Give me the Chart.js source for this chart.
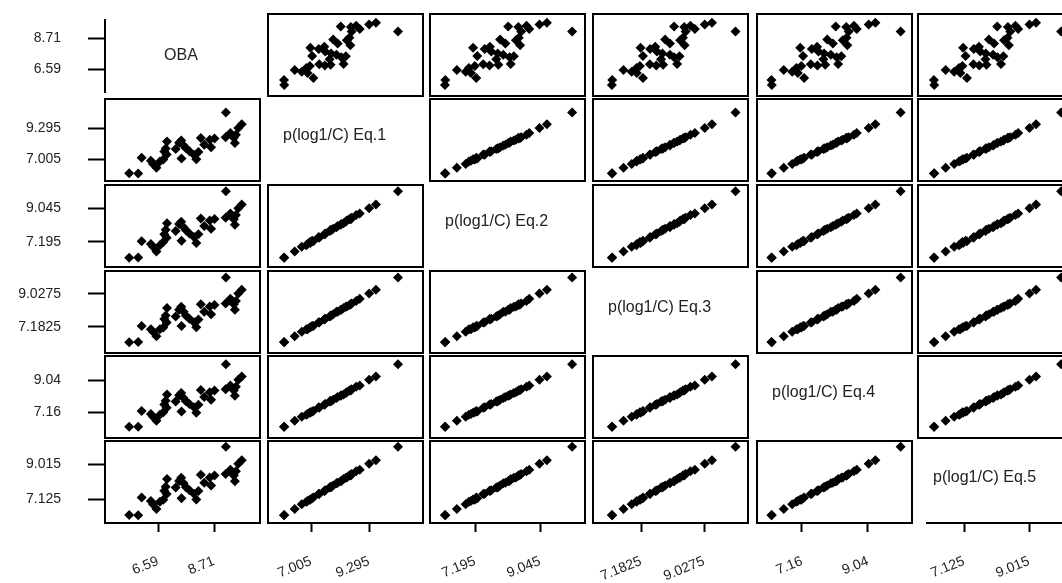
<!DOCTYPE html>
<html lang="en">
<head>
<meta charset="UTF-8">
<title>Scatterplot matrix - OBA vs p(log1/C)</title>
<script src="https://cdn.jsdelivr.net/npm/chart.js"></script>
<style>
  html, body { margin: 0; padding: 0; background: #fff; overflow: hidden; }
  #matrix { position: relative; width: 1062px; height: 583px; overflow: hidden; }
  #matrix canvas { position: absolute; }
  .diag { position: absolute; font: 16px 'Liberation Sans', Arial, sans-serif; color: #222; white-space: nowrap; line-height: 18px; }
</style>
</head>
<body>
<div id="matrix"></div>
<script>
// variables of the matrix (row / column order)
const names = ['OBA', 'p(log1/C) Eq.1', 'p(log1/C) Eq.2', 'p(log1/C) Eq.3', 'p(log1/C) Eq.4', 'p(log1/C) Eq.5'];
const tickLabels = [
  ['6.59', '8.71'],
  ['7.005', '9.295'],
  ['7.195', '9.045'],
  ['7.1825', '9.0275'],
  ['7.16', '9.04'],
  ['7.125', '9.015']
];

// observations
const oba = [5.50, 5.84, 5.97, 6.32, 6.40, 6.53, 6.66, 6.79, 6.92, 6.88, 6.93, 6.83, 7.26, 7.39, 7.48, 7.56, 7.65, 7.78, 8.04, 8.12, 8.21, 8.34, 8.55, 8.60, 9.16, 9.15, 9.33, 9.50, 9.54, 9.63, 9.76, 9.46, 7.95, 7.47, 8.73];
const eq1 = [5.95, 5.94, 7.10, 6.87, 6.64, 6.36, 6.82, 6.96, 7.33, 7.78, 8.29, 7.55, 7.74, 8.20, 7.05, 8.01, 7.80, 7.57, 6.98, 7.53, 8.56, 8.06, 8.42, 7.88, 10.44, 8.61, 8.93, 8.18, 8.79, 9.30, 9.57, 8.58, 7.31, 8.38, 8.52];
const eq2 = [6.34, 6.35, 7.23, 7.08, 6.93, 6.68, 7.02, 7.19, 7.43, 7.86, 8.21, 7.61, 7.80, 8.18, 7.26, 8.00, 7.84, 7.66, 7.14, 7.62, 8.48, 8.06, 8.36, 7.91, 9.96, 8.51, 8.74, 8.14, 8.66, 9.03, 9.24, 8.43, 7.47, 8.30, 8.44];
const eq3 = [6.33, 6.34, 7.24, 7.06, 6.91, 6.67, 7.05, 7.15, 7.44, 7.83, 8.24, 7.63, 7.77, 8.15, 7.24, 8.03, 7.81, 7.65, 7.17, 7.60, 8.46, 8.03, 8.33, 7.89, 9.95, 8.49, 8.76, 8.15, 8.63, 9.05, 9.26, 8.45, 7.45, 8.31, 8.41];
const eq4 = [6.30, 6.29, 7.22, 7.04, 6.88, 6.64, 7.00, 7.14, 7.41, 7.82, 8.19, 7.60, 7.77, 8.15, 7.19, 7.98, 7.79, 7.63, 7.11, 7.59, 8.45, 8.04, 8.32, 7.88, 9.97, 8.49, 8.72, 8.12, 8.64, 9.06, 9.25, 8.42, 7.44, 8.28, 8.43];
const eq5 = [6.26, 6.25, 7.21, 7.02, 6.84, 6.59, 6.98, 7.08, 7.40, 7.78, 8.20, 7.57, 7.75, 8.10, 7.17, 7.97, 7.76, 7.60, 7.10, 7.56, 8.43, 8.00, 8.29, 7.85, 9.95, 8.47, 8.70, 8.09, 8.62, 9.03, 9.22, 8.40, 7.41, 8.27, 8.39];
const series = [oba, eq1, eq2, eq3, eq4, eq5];

// layout, page pixels
const W = 1062, H = 583;
const colLeft = [105, 268, 430, 593, 757, 918];
const rowTop = [14, 99, 185, 271, 356, 441];
const cellW = 155, cellH = 82;
// where the two tick marks sit (lower label, upper label)
const xTickAt = [[158, 214], [311, 369], [475, 540], [641, 704], [802, 868], [964, 1029]];
const yTickAt = [[69, 38], [159, 128], [242, 208], [327, 294], [412, 380], [499, 464]];

const FONT = "'Liberation Sans', Arial, sans-serif";
const wrap = document.getElementById('matrix');

const framePlugin = {
  id: 'frame',
  afterDatasetsDraw(chart, args, opts) {
    if (!opts.show) return;
    const a = chart.chartArea, ctx = chart.ctx;
    ctx.save();
    ctx.strokeStyle = '#000';
    ctx.lineWidth = 2;
    ctx.strokeRect(a.left, a.top, a.right - a.left, a.bottom - a.top);
    ctx.restore();
  }
};

function valueAt(v, px, isX) {
  const t = tickLabels[v].map(Number);
  const at = isX ? xTickAt[v] : yTickAt[v];
  return t[0] + (px - at[0]) * (t[1] - t[0]) / (at[1] - at[0]);
}

function axis(v, isX, area, shown, line, size) {
  return {
    type: 'linear',
    position: isX ? 'bottom' : 'left',
    display: shown,
    min: isX ? valueAt(v, area.l, true) : valueAt(v, area.b, false),
    max: isX ? valueAt(v, area.r, true) : valueAt(v, area.t, false),
    afterBuildTicks: s => { s.ticks = tickLabels[v].map(Number).map(n => ({ value: n })); },
    afterFit: s => {
      if (shown) {
        if (isX) s.height = size; else s.width = size;
      }
      s.paddingTop = s.paddingBottom = s.paddingLeft = s.paddingRight = 0;
    },
    grid: { drawOnChartArea: false, drawTicks: true, tickLength: isX ? 9 : 17, tickWidth: 2, tickColor: '#000' },
    border: { display: line, color: '#000', width: 2 },
    ticks: {
      autoSkip: false,
      color: '#222',
      font: { family: FONT, size: 14 },
      padding: isX ? 21 : 27,
      minRotation: isX ? 22 : 0,
      maxRotation: isX ? 22 : 0,
      callback: (val, i) => tickLabels[v][i]
    }
  };
}

function addChart(area, xv, yv, o) {
  const cl = o.showY ? 0 : area.l - 6;
  const ct = area.t - 6;
  const cr = area.r + 6;
  const cb = o.showX ? H : area.b + 6;
  const canvas = document.createElement('canvas');
  canvas.width = cr - cl;
  canvas.height = cb - ct;
  canvas.style.left = cl + 'px';
  canvas.style.top = ct + 'px';
  wrap.appendChild(canvas);

  const pts = o.points ? series[xv].map((x, k) => ({ x: x, y: series[yv][k] })) : [];
  new Chart(canvas, {
    type: 'scatter',
    data: {
      datasets: [{
        data: pts,
        pointStyle: 'rectRot',
        pointRadius: 5,
        pointBorderWidth: 0,
        borderWidth: 0,
        backgroundColor: '#000'
      }]
    },
    options: {
      responsive: false,
      animation: false,
      events: [],
      layout: { padding: { left: o.showY ? 0 : area.l - cl, top: 6, right: 6, bottom: o.showX ? 0 : 6 } },
      scales: {
        x: axis(xv, true, area, !!o.showX, !!o.xLine, cb - area.b),
        y: axis(yv, false, area, !!o.showY, !!o.yLine, area.l - cl)
      },
      plugins: {
        legend: { display: false },
        tooltip: { enabled: false },
        frame: { show: !!o.frame }
      }
    },
    plugins: [framePlugin]
  });
}

for (let r = 0; r < 6; r++) {
  for (let c = 0; c < 6; c++) {
    const area = { l: colLeft[c], t: rowTop[r], r: colLeft[c] + cellW, b: rowTop[r] + cellH };
    if (r === c) continue;
    addChart(area, c, r, { points: true, frame: true, showX: r === 5, showY: c === 0 });
  }
}

// axes that sit in the diagonal cells
addChart({ l: 105, t: 20, r: 260, b: 92 }, 0, 0, { showY: true, yLine: true });
addChart({ l: 927, t: 441, r: 1073, b: rowTop[5] + cellH }, 5, 5, { showX: true, xLine: true });

// variable names on the diagonal
names.forEach((n, i) => {
  const d = document.createElement('div');
  d.className = 'diag';
  d.textContent = n;
  if (i === 0) {
    d.style.left = '181px';
    d.style.top = (55 - 9) + 'px';
    d.style.transform = 'translateX(-50%)';
  } else {
    d.style.left = (colLeft[i] + 15) + 'px';
    d.style.top = (rowTop[i] + 36 - 9) + 'px';
  }
  wrap.appendChild(d);
});
</script>
</body>
</html>
